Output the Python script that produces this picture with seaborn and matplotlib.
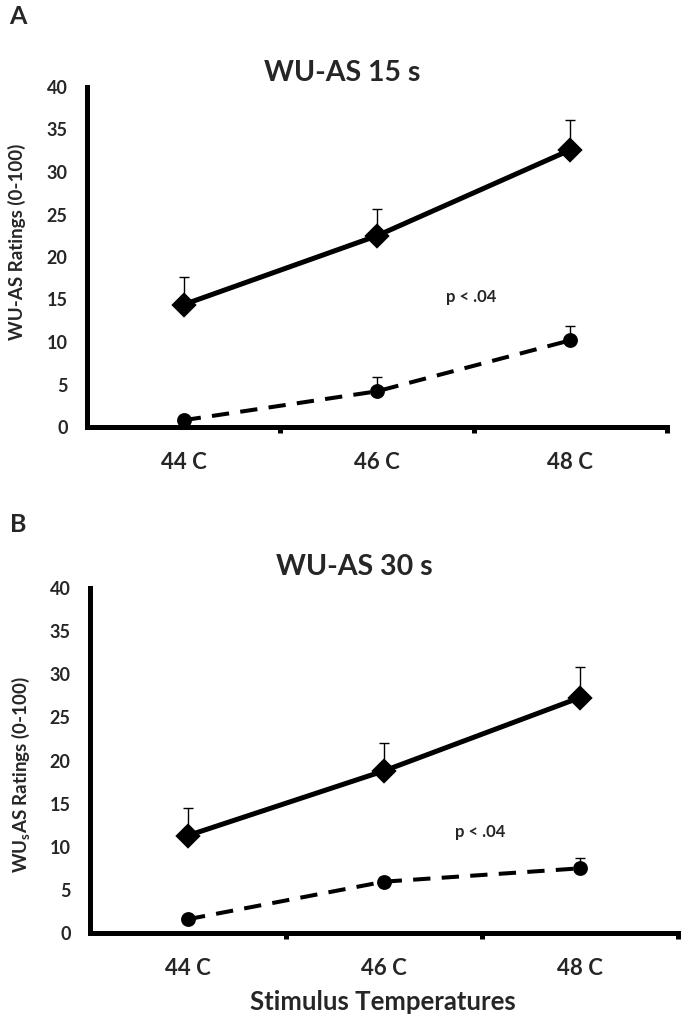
import numpy as np
import pandas as pd
import matplotlib
matplotlib.use("Agg")
import matplotlib.pyplot as plt
import seaborn as sns

# ---------------- data ----------------
temps = ["44 C", "46 C", "48 C"]
y_ticks = [0, 5, 10, 15, 20, 25, 30, 35, 40]

a_title = "WU-AS 15 s"
a_diamond = [14.4, 22.5, 32.6]
a_diamond_err = [3.2, 3.1, 3.5]
a_circle = [0.8, 4.2, 10.2]
a_circle_err = [0.5, 1.7, 1.65]

b_title = "WU-AS 30 s"
b_diamond = [11.3, 18.8, 27.3]
b_diamond_err = [3.2, 3.2, 3.5]
b_circle = [1.6, 5.95, 7.5]
b_circle_err = [0.5, 0.5, 1.25]

p_text = "p < .04"
a_ylabel = "WU-AS Ratings (0-100)"
b_ylabel = "WU$_{s}$AS Ratings (0-100)"
xlabel = "Stimulus Temperatures"

# ---------------- style ----------------
sns.set_style("white")
plt.rcParams["font.family"] = ["Lato", "DejaVu Sans"]
plt.rcParams["font.weight"] = "bold"
plt.rcParams["mathtext.default"] = "regular"

W, H = 685, 1029
fig = plt.figure(figsize=(W / 100, H / 100), dpi=100)


def px_axes(left, right, top, bottom):
    return fig.add_axes([left / W, 1 - bottom / H, (right - left) / W, (bottom - top) / H])


def panel(ax, diamond, d_err, circle, c_err, ylabel, ylab_x, ylab_y, p_xy):
    pos = np.arange(len(temps))
    df_d = pd.DataFrame({"temp": temps, "val": diamond})
    df_c = pd.DataFrame({"temp": temps, "val": circle})
    # error bars (upward only)
    ax.errorbar(pos, diamond, yerr=[np.zeros(len(pos)), d_err], fmt="none",
                ecolor="black", elinewidth=1.0, capsize=3.5, capthick=1.0, zorder=2)
    ax.errorbar(pos, circle, yerr=[np.zeros(len(pos)), c_err], fmt="none",
                ecolor="black", elinewidth=1.0, capsize=3.5, capthick=1.0, zorder=2)
    sns.pointplot(data=df_d, x="temp", y="val", color="black", markers="D",
                  linestyles="-", errorbar=None, ax=ax, markersize=10,
                  linewidth=3.6, zorder=3)
    n0 = len(ax.lines)
    sns.pointplot(data=df_c, x="temp", y="val", color="black", markers="o",
                  linestyles="--", errorbar=None, ax=ax, markersize=8.5,
                  linewidth=2.9, zorder=3)
    for ln in ax.lines[n0:]:
        if ln.get_linestyle() in ("--", "dashed"):
            ln.set_dashes((4.3, 2.8))
    ax.set_xlim(-0.5, 2.5)
    ax.set_ylim(0, 40)
    ax.set_yticks(y_ticks)
    ax.set_yticklabels([str(v) for v in y_ticks], fontsize=13, fontweight="bold")
    ax.set_xticks(pos)
    ax.set_xticklabels(temps, fontsize=16, fontweight="bold")
    ax.set_xticks([0.5, 1.5, 2.5], minor=True)
    ax.tick_params(axis="x", which="major", length=0, pad=18)
    ax.tick_params(axis="x", which="minor", length=4, width=3.6, direction="out",
                   color="black", bottom=True)
    ax.tick_params(axis="y", which="both", length=0, pad=14)
    for s in ["top", "right"]:
        ax.spines[s].set_visible(False)
    for s in ["left", "bottom"]:
        ax.spines[s].set_linewidth(3.6)
        ax.spines[s].set_color("black")
    ax.set_ylabel(ylabel, fontsize=13.5, fontweight="bold")
    ax.yaxis.set_label_coords(ylab_x, ylab_y)
    ax.set_xlabel("")
    ax.text(p_xy[0], p_xy[1], p_text, ha="center", va="center",
            fontsize=12, fontweight="bold")
    ax.grid(False)


axA = px_axes(87, 667, 87, 427)
panel(axA, a_diamond, a_diamond_err, a_circle, a_circle_err, a_ylabel,
      -0.105, 0.544, (1.485, 15.3))
axB = px_axes(90, 678, 588, 933)
panel(axB, b_diamond, b_diamond_err, b_circle, b_circle_err, b_ylabel,
      -0.098, 0.458, (1.49, 11.7))
axB.set_xlabel(xlabel, fontsize=18.5, fontweight="bold")
axB.xaxis.set_label_coords(0.498, -0.165)

fig.text(342 / W, 1 - 73 / H, a_title, ha="center", va="center", fontsize=20.5, fontweight="bold")
fig.text(354 / W, 1 - 567 / H, b_title, ha="center", va="center", fontsize=20.5, fontweight="bold")
fig.text(18 / W, 1 - 17 / H, "A", ha="center", va="center", fontsize=18, fontweight="bold")
fig.text(18 / W, 1 - 525 / H, "B", ha="center", va="center", fontsize=18, fontweight="bold")

fig.savefig("out.png", dpi=100)
